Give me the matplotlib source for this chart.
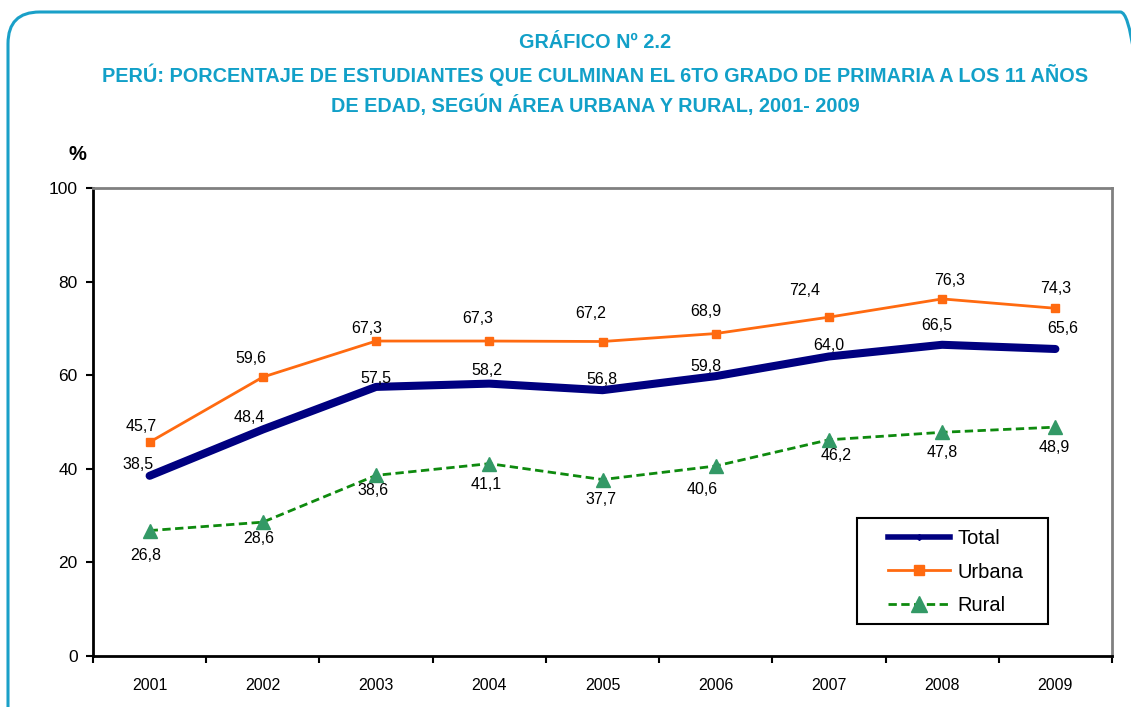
import matplotlib
matplotlib.use("Agg")
import matplotlib.pyplot as plt
from matplotlib.patches import FancyBboxPatch, Rectangle
from matplotlib.lines import Line2D

years = ["2001", "2002", "2003", "2004", "2005", "2006", "2007", "2008", "2009"]
total = [38.5, 48.4, 57.5, 58.2, 56.8, 59.8, 64.0, 66.5, 65.6]
urbana = [45.7, 59.6, 67.3, 67.3, 67.2, 68.9, 72.4, 76.3, 74.3]
rural = [26.8, 28.6, 38.6, 41.1, 37.7, 40.6, 46.2, 47.8, 48.9]
yticks = [0, 20, 40, 60, 80, 100]

title_lines = ["GRÁFICO Nº 2.2",
               "PERÚ: PORCENTAJE DE ESTUDIANTES QUE CULMINAN EL 6TO GRADO DE PRIMARIA A LOS 11 AÑOS",
               "DE EDAD, SEGÚN ÁREA URBANA Y RURAL, 2001- 2009"]

# label offsets in pixels (dx, dy)
off_total = [(-12, 11), (-14, 12), (0, 8), (-2, 13), (-1, 11), (-10, 10), (0, 11), (-5, 19), (7, 20)]
off_urb = [(-8, 16), (-12, 19), (-9, 13), (-12, 23), (-12, 28), (-10, 22), (-24, 27), (7, 18), (0, 20)]
off_rur = [(-4, -25), (-4, -16), (-3, -15), (-3, -21), (-2, -20), (-14, -24), (7, -16), (0, -20), (-1, -20)]

FONT = ["Liberation Sans", "DejaVu Sans"]
plt.rcParams["font.family"] = FONT
W, H = 1131, 707
fig = plt.figure(figsize=(W / 100, H / 100), dpi=100)

# rounded border
bx0, by0, bx1, by1 = 8, 12, 1152, 740
border = FancyBboxPatch((bx0 / W, 1 - by1 / H), (bx1 - bx0) / W, (by1 - by0) / H,
                        boxstyle="round,pad=0,rounding_size=0.028",
                        transform=fig.transFigure, fill=False,
                        edgecolor="#1AA0C8", linewidth=2.2, clip_on=False,
                        mutation_aspect=W / H)
fig.patches.append(border)

cyan = "#12A0C8"
title_y = [42, 75, 105]
for t, yy in zip(title_lines, title_y):
    fig.text(595 / W, 1 - yy / H, t, ha="center", va="center", color=cyan,
             fontsize=14.3, fontweight="bold")

fig.text(77 / W, 1 - 155 / H, "%", ha="center", va="center", fontsize=14.5,
         fontweight="bold", color="black")

AXL, AXR, AXT, AXB = 93, 1112, 188, 656
AW, AH = AXR - AXL, AXB - AXT
ax = fig.add_axes([AXL / W, 1 - AXB / H, AW / W, AH / H])
x = list(range(len(years)))

navy = "#000080"
orange = "#FF6A10"
green_line = "#0E8A0E"
green_mark = "#339966"

ax.plot(x, total, color=navy, linewidth=5.8, solid_capstyle="round",
        solid_joinstyle="round", zorder=3)
ax.plot(x, urbana, color=orange, linewidth=2, marker="s", markersize=6,
        markerfacecolor=orange, markeredgecolor=orange, zorder=3)
ax.plot(x, rural, color=green_line, linewidth=2, linestyle=(0, (3, 1.6)),
        marker="^", markersize=10.5, markerfacecolor=green_mark,
        markeredgecolor=green_mark, zorder=3)

def lab(vals, offs):
    for i, (v, o) in enumerate(zip(vals, offs)):
        ax.annotate(f"{v:.1f}".replace(".", ","), (i, v), xytext=o,
                    textcoords="offset pixels", ha="center", va="center",
                    fontsize=11.5, color="black", zorder=4)

lab(total, off_total)
lab(urbana, off_urb)
lab(rural, off_rur)

ax.set_xlim(-0.5, len(years) - 0.5)
ax.set_ylim(0, 100)
ax.set_yticks(yticks)
ax.set_yticklabels([str(v) for v in yticks], fontsize=12.5)
ax.set_xticks(x)
ax.set_xticklabels(years, fontsize=11.5)
ax.set_xticks([i + 0.5 for i in range(-1, len(years))], minor=True)
ax.tick_params(axis="x", which="major", length=0, pad=16)
ax.tick_params(axis="x", which="minor", length=5, width=1.5, direction="out")
ax.tick_params(axis="y", length=5, width=1.5, direction="out", pad=6)

for s in ["left", "bottom"]:
    ax.spines[s].set_color("black")
    ax.spines[s].set_linewidth(2)
for s in ["top", "right"]:
    ax.spines[s].set_color("#808080")
    ax.spines[s].set_linewidth(2)

handles = [
    Line2D([], [], color=navy, linewidth=4, marker="D", markersize=3),
    Line2D([], [], color=orange, linewidth=2, marker="s", markersize=7),
    Line2D([], [], color=green_line, linewidth=2, linestyle=(0, (3, 1.6)),
           marker="^", markersize=11, markerfacecolor=green_mark,
           markeredgecolor=green_mark),
]
# legend frame
ax.add_patch(Rectangle(((857 - AXL) / AW, (AXB - 624) / AH), 191 / AW, 106 / AH,
                       transform=ax.transAxes, fill=True, facecolor="white",
                       edgecolor="black", linewidth=1.5, zorder=5))
leg = ax.legend(handles, ["Total", "Urbana", "Rural"],
                loc="upper left", bbox_to_anchor=((888 - AXL) / AW, (AXB - 529) / AH),
                borderaxespad=0, borderpad=0, frameon=False, fontsize=14.5,
                handlelength=3.1, labelspacing=0.72, handletextpad=0.35)
leg.set_zorder(6)

fig.savefig("out.png", dpi=100)
